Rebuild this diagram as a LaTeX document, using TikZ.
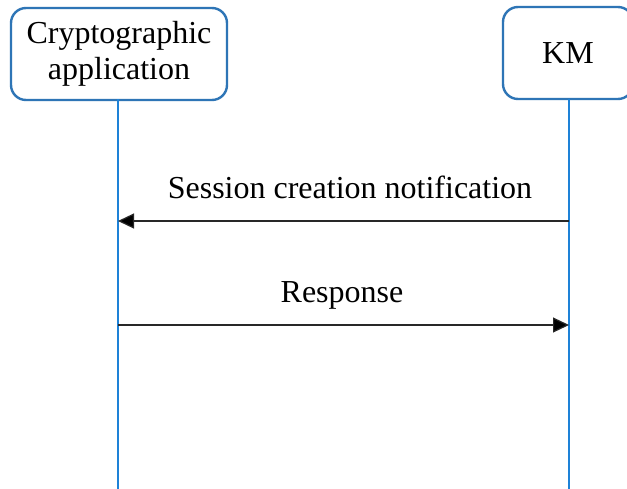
\documentclass[tikz,border=0pt]{standalone}
\usepackage{fontspec}
\setmainfont{Liberation Serif}
\usetikzlibrary{arrows.meta}
\definecolor{boxblue}{RGB}{46,117,182}
\definecolor{lifeblue}{RGB}{30,130,215}
\definecolor{msggray}{RGB}{40,40,40}
\tikzset{
  actor/.style={draw=boxblue, line width=2.4pt, rounded corners=15pt, fill=white,
    align=center, inner sep=0pt, font=\fontsize{32}{36}\selectfont},
  lifeline/.style={draw=lifeblue, line width=1.4pt},
  msg/.style={draw=msggray, line width=1.2pt, -{Triangle[length=16pt,width=15pt,fill=black]}},
  msglabel/.style={anchor=base, inner sep=0pt, font=\fontsize{32}{36}\selectfont}
}
\begin{document}
\begin{tikzpicture}[x=1pt,y=-1pt]
  \clip (0,0) rectangle (627,488);
  \fill[white] (0,0) rectangle (627,488);
  % participants
  \node[actor, minimum width=216pt, minimum height=92pt] (ca) at (119,54) {Cryptographic\\application};
  \node[actor, minimum width=130pt, minimum height=92pt] (km) at (568,53) {KM};
  % lifelines
  \coordinate (caend) at (118,490);
  \coordinate (kmend) at (569,490);
  \coordinate (catop) at (118,99);
  \coordinate (kmtop) at (569,99);
  \draw[lifeline] (catop) -- (caend);
  \draw[lifeline] (kmtop) -- (kmend);
  % messages
  \coordinate (m1s) at (569,221);
  \coordinate (m1e) at (118,221);
  \coordinate (m2s) at (118,325);
  \coordinate (m2e) at (569,325);
  \draw[msg] (m1s) -- (m1e);
  \draw[msg] (m2s) -- (m2e);
  \node[msglabel] (l1) at (350,198) {Session creation notification};
  \node[msglabel] (l2) at (342,302) {Response};
\end{tikzpicture}
\end{document}
